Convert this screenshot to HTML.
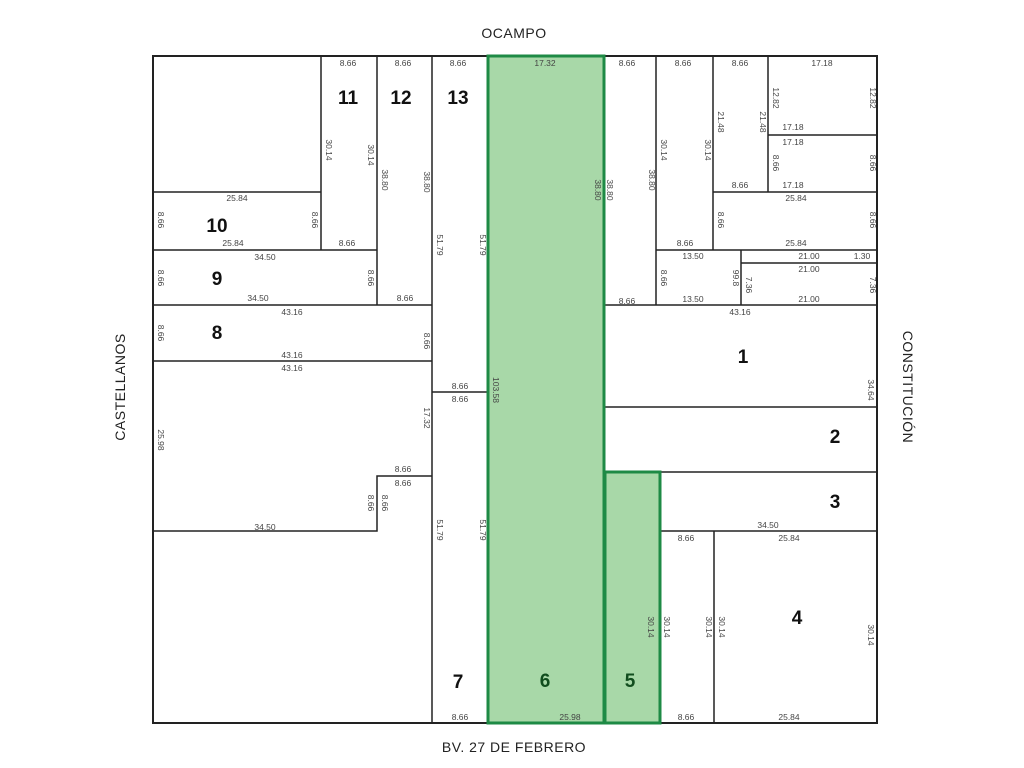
<!DOCTYPE html>
<html><head><meta charset="utf-8"><style>
html,body{margin:0;padding:0;background:#fff;}
svg{display:block}
text{font-family:"Liberation Sans",sans-serif;}
.d{font-size:8.5px;fill:#444;text-anchor:middle;font-family:"Liberation Sans Narrow","Liberation Sans",sans-serif;}
.n{font-size:19px;font-weight:bold;fill:#111;text-anchor:middle;}
.g{fill:#114d1e}
.s{font-size:14px;fill:#222;text-anchor:middle;letter-spacing:0.5px}
</style></head><body>
<svg width="1024" height="768" viewBox="0 0 1024 768" xmlns="http://www.w3.org/2000/svg">
<rect x="0" y="0" width="1024" height="768" fill="#fff"/>
<text class="s" x="514" y="38">OCAMPO</text>
<text class="s" x="514" y="752">BV. 27 DE FEBRERO</text>
<text class="s" transform="translate(125,387) rotate(-90)">CASTELLANOS</text>
<text class="s" transform="translate(903,387) rotate(90)">CONSTITUCIÓN</text>

<g stroke="#222" stroke-width="1.5" fill="none">
<rect x="153" y="56" width="724" height="667" stroke-width="2"/>
<line x1="321" y1="56" x2="321" y2="250"/>
<line x1="377" y1="56" x2="377" y2="305"/>
<line x1="432" y1="56" x2="432" y2="723"/>
<line x1="153" y1="192" x2="321" y2="192"/>
<line x1="153" y1="250" x2="377" y2="250"/>
<line x1="153" y1="305" x2="432" y2="305"/>
<line x1="153" y1="361" x2="432" y2="361"/>
<polyline points="153,531 377,531 377,476 432,476"/>
<line x1="432" y1="392" x2="488" y2="392"/>
<line x1="656" y1="56" x2="656" y2="305"/>
<line x1="713" y1="56" x2="713" y2="250"/>
<line x1="768" y1="56" x2="768" y2="192"/>
<line x1="768" y1="135" x2="877" y2="135"/>
<line x1="713" y1="192" x2="877" y2="192"/>
<line x1="656" y1="250" x2="877" y2="250"/>
<line x1="741" y1="263" x2="877" y2="263"/>
<line x1="741" y1="250" x2="741" y2="305"/>
<line x1="604" y1="305" x2="877" y2="305"/>
<line x1="604" y1="407" x2="877" y2="407"/>
<line x1="604" y1="472" x2="877" y2="472"/>
<line x1="656" y1="531" x2="877" y2="531"/>
<line x1="660" y1="472" x2="660" y2="723"/>
<line x1="714" y1="531" x2="714" y2="723"/>
</g>
<rect x="488" y="56" width="116" height="667" fill="#a8d8a8" stroke="#1e8a45" stroke-width="3"/>
<rect x="605" y="472" width="55" height="251" fill="#a8d8a8" stroke="#1e8a45" stroke-width="3"/>

<g class="d">
<text x="348" y="66">8.66</text><text x="403" y="66">8.66</text><text x="458" y="66">8.66</text>
<text x="545" y="66">17.32</text><text x="627" y="66">8.66</text><text x="683" y="66">8.66</text>
<text x="740" y="66">8.66</text><text x="822" y="66">17.18</text>
<text x="237" y="201">25.84</text><text x="233" y="246">25.84</text><text x="347" y="246">8.66</text>
<text x="265" y="260">34.50</text><text x="258" y="301">34.50</text><text x="405" y="301">8.66</text>
<text x="292" y="315">43.16</text><text x="292" y="358">43.16</text><text x="292" y="371">43.16</text>
<text x="460" y="389">8.66</text><text x="460" y="402">8.66</text>
<text x="403" y="472">8.66</text><text x="403" y="486">8.66</text>
<text x="265" y="530">34.50</text>
<text x="460" y="720">8.66</text><text x="570" y="720">25.98</text>
<text x="627" y="304">8.66</text><text x="685" y="246">8.66</text>
<text x="793" y="130">17.18</text><text x="793" y="145">17.18</text><text x="740" y="188">8.66</text><text x="793" y="188">17.18</text>
<text x="796" y="201">25.84</text><text x="796" y="246">25.84</text>
<text x="693" y="259">13.50</text><text x="693" y="302">13.50</text>
<text x="809" y="259">21.00</text><text x="862" y="259">1.30</text>
<text x="809" y="272">21.00</text><text x="809" y="302">21.00</text>
<text x="740" y="315">43.16</text>
<text x="768" y="528">34.50</text><text x="789" y="541">25.84</text>
<text x="686" y="541">8.66</text><text x="686" y="720">8.66</text><text x="789" y="720">25.84</text>
</g>
<g class="d">
<text transform="translate(158,220) rotate(90)">8.66</text>
<text transform="translate(312,220) rotate(90)">8.66</text>
<text transform="translate(158,278) rotate(90)">8.66</text>
<text transform="translate(368,278) rotate(90)">8.66</text>
<text transform="translate(158,333) rotate(90)">8.66</text>
<text transform="translate(424,341) rotate(90)">8.66</text>
<text transform="translate(326,150) rotate(90)">30.14</text>
<text transform="translate(368,155) rotate(90)">30.14</text>
<text transform="translate(382,180) rotate(90)">38.80</text>
<text transform="translate(424,182) rotate(90)">38.80</text>
<text transform="translate(437,245) rotate(90)">51.79</text>
<text transform="translate(480,245) rotate(90)">51.79</text>
<text transform="translate(595,190) rotate(90)">38.80</text>
<text transform="translate(607,190) rotate(90)">38.80</text>
<text transform="translate(649,180) rotate(90)">38.80</text>
<text transform="translate(661,150) rotate(90)">30.14</text>
<text transform="translate(705,150) rotate(90)">30.14</text>
<text transform="translate(718,122) rotate(90)">21.48</text>
<text transform="translate(760,122) rotate(90)">21.48</text>
<text transform="translate(773,98) rotate(90)">12.82</text>
<text transform="translate(870,98) rotate(90)">12.82</text>
<text transform="translate(773,163) rotate(90)">8.66</text>
<text transform="translate(870,163) rotate(90)">8.66</text>
<text transform="translate(718,220) rotate(90)">8.66</text>
<text transform="translate(870,220) rotate(90)">8.66</text>
<text transform="translate(661,278) rotate(90)">8.66</text>
<text transform="translate(733,278) rotate(90)">99.8</text>
<text transform="translate(746,285) rotate(90)">7.36</text>
<text transform="translate(870,285) rotate(90)">7.36</text>
<text transform="translate(868,390) rotate(90)">34.64</text>
<text transform="translate(493,390) rotate(90)">103.58</text>
<text transform="translate(158,440) rotate(90)">25.98</text>
<text transform="translate(424,418) rotate(90)">17.32</text>
<text transform="translate(368,503) rotate(90)">8.66</text>
<text transform="translate(382,503) rotate(90)">8.66</text>
<text transform="translate(437,530) rotate(90)">51.79</text>
<text transform="translate(480,530) rotate(90)">51.79</text>
<text transform="translate(648,627) rotate(90)">30.14</text>
<text transform="translate(664,627) rotate(90)">30.14</text>
<text transform="translate(706,627) rotate(90)">30.14</text>
<text transform="translate(719,627) rotate(90)">30.14</text>
<text transform="translate(868,635) rotate(90)">30.14</text>
</g>
<g class="n">
<text x="348" y="104">11</text><text x="401" y="104">12</text><text x="458" y="104">13</text>
<text x="217" y="232">10</text><text x="217" y="285">9</text><text x="217" y="339">8</text>
<text x="458" y="688">7</text><text class="n g" x="545" y="687">6</text><text class="n g" x="630" y="687">5</text>
<text x="743" y="363">1</text><text x="835" y="443">2</text><text x="835" y="508">3</text><text x="797" y="624">4</text>
</g>
</svg>
</body></html>
